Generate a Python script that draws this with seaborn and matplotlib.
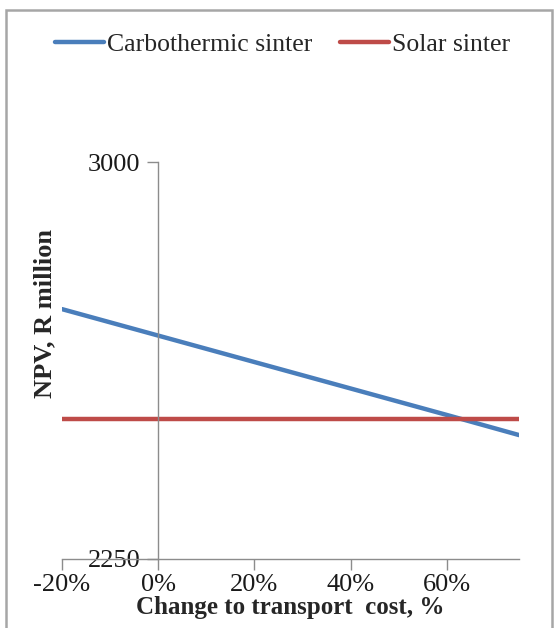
import pandas as pd
import numpy as np
import matplotlib
matplotlib.use("Agg")
import matplotlib.pyplot as plt
import seaborn as sns
from matplotlib.patches import Rectangle

# ---- data ----
change_pct = [-20, 0, 20, 40, 60, 75]
carbothermic = [2722, 2672, 2622, 2572, 2522, 2484]
solar = [2514, 2514, 2514, 2514, 2514, 2514]
series_names = ["Carbothermic sinter", "Solar sinter"]
x_ticks = [-20, 0, 20, 40, 60]
y_ticks = [2250, 3000]

df = pd.DataFrame({
    "change": change_pct * 2,
    "npv": carbothermic + solar,
    "series": [series_names[0]] * len(change_pct) + [series_names[1]] * len(change_pct),
})

sns.set_style("white")
plt.rcParams['font.family'] = ['Liberation Serif', 'DejaVu Serif']

fig = plt.figure(figsize=(5.54, 6.28), dpi=100)
ax = fig.add_axes([0.112, 0.110, 0.825, 0.632])

sns.lineplot(data=df, x="change", y="npv", hue="series",
             palette=["#4a7ebb", "#be4b48"], linewidth=3.2, ax=ax, legend=False)

ax.set_xlim(-20, 75)
ax.set_ylim(2250, 3000)
ax.set_xticks(x_ticks)
ax.set_xticklabels([f"{t}%" for t in x_ticks])
ax.set_yticks(y_ticks)
ax.set_yticklabels([str(t) for t in y_ticks])

# y axis crosses at 0%
ax.spines['left'].set_position(('data', 0))
ax.spines['top'].set_visible(False)
ax.spines['right'].set_visible(False)
for s in ['left', 'bottom']:
    ax.spines[s].set_color('#8c8c8c')
    ax.spines[s].set_linewidth(1.0)

ax.tick_params(axis='both', direction='out', length=8, width=1.0, bottom=True, left=True,
               color='#8c8c8c', labelsize=19, labelcolor='#1a1a1a', pad=3)
ax.tick_params(axis='y', pad=5)

ax.set_xlabel("Change to transport  cost, %", fontsize=18, fontweight='bold', labelpad=0)
ax.set_ylabel("")
fig.text(45 / 554, 1 - 314 / 628, "NPV, R million", rotation=90, fontsize=19,
         fontweight='bold', ha='center', va='center')

# legend across the top
handles = [plt.Line2D([], [], color="#4a7ebb", linewidth=3.2),
           plt.Line2D([], [], color="#be4b48", linewidth=3.2)]
fig.legend(handles, series_names, loc='center', bbox_to_anchor=(0.51, 1 - 45 / 628),
           ncol=2, frameon=False, fontsize=18.5, handlelength=1.9, handletextpad=0.1,
           columnspacing=1.1)

# chart-area frame
fig.patches.append(Rectangle((6 / 554, -0.02), 546 / 554, 1.02 - 10 / 628,
                             transform=fig.transFigure, fill=False,
                             edgecolor='#a6a6a6', linewidth=1.8))

fig.savefig("out.png", dpi=100)
